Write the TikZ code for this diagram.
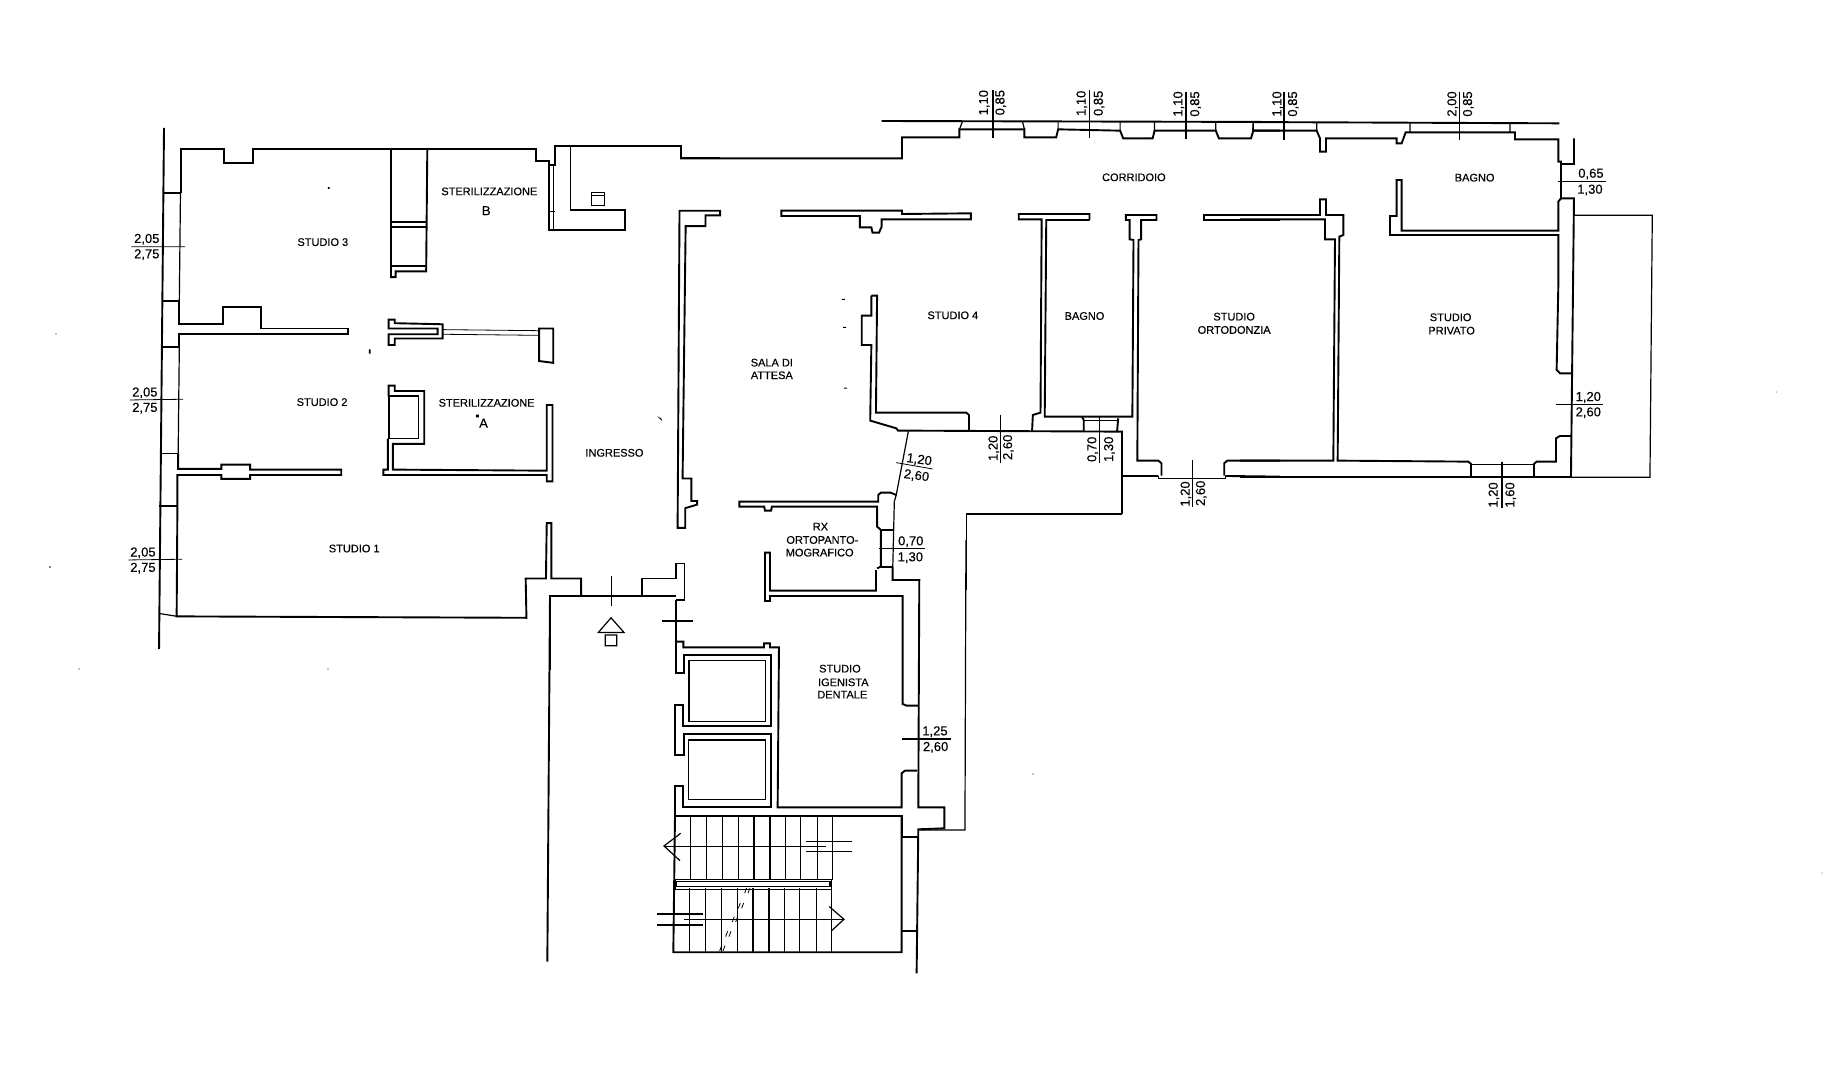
\documentclass[tikz,border=0pt]{standalone}
\usepackage{fontspec}
\setmainfont{Liberation Sans}
\newfontfamily\labf[FakeBold=0.3]{Liberation Sans}
\tikzset{
  wall/.style={line width=1.9pt,line join=miter,black},
  medw/.style={line width=1.2pt,black},
  thinw/.style={line width=0.8pt,black},
  tread/.style={line width=1.5pt,black},
  room/.style={font=\labf\fontsize{11}{12}\selectfont,inner sep=0pt,black},
  dimt/.style={font=\labf\fontsize{13}{14}\selectfont,inner sep=0pt,black},
  dimv/.style={font=\labf\fontsize{13}{14}\selectfont,inner sep=0pt,black,rotate=90},
  zone/.style={x=0.3827pt,y=-0.3571pt,shift={(120pt,-110pt)}},
  ztwo/.style={x=0.3827pt,y=-0.3333pt,shift={(680pt,-90pt)}},
  zthree/.style={x=0.3333pt,y=-0.3333pt,shift={(1240pt,-90pt)}},
  zfour/.style={x=0.3333pt,y=-0.3333pt,shift={(540pt,-540pt)}},
}
\begin{document}
\begin{tikzpicture}
\useasboundingbox (0pt,0pt) rectangle (1824pt,-1068pt);
\fill[white] (0pt,0pt) rectangle (1824pt,-1068pt);
% ---------- zone 1 : west wing
\begin{scope}[zone]
\draw[wall] (115,50)--(102,1510);
\draw[wall] (115,233)--(158,233) (110,535)--(155,535) (108,663)--(155,663) (105,962)--(152,962) (103,1108)--(150,1108);
\draw[medw] (103,1410)--(150,1418);
\draw[medw] (158,233)--(155,535) (155,663)--(152,962);
\draw[wall] (155,535)--(155,600)--(270,600)--(270,552)--(368,552)--(368,612)--(595,612)--(595,627)--(155,627)--(155,663);
\draw[wall] (152,962)--(152,1005)--(265,1005)--(265,993)--(340,993)--(340,1007)--(578,1007)--(578,1022)--(340,1022)--(340,1033)--(265,1033)--(265,1022)--(150,1022)--(150,1108)--(148,1418)--(1062,1422)--(1060,1312)--(1113,1312)--(1115,1157)--(1127,1157)--(1127,1312)--(1205,1312)--(1205,1360);
\draw[wall] (1123,1568)--(1123,1360)--(1452,1360);
\draw[wall] (1365,1360)--(1365,1312)--(1453,1312)--(1453,1270)--(1475,1270)--(1475,1372)--(1452,1372);
\draw[wall] (159,233)--(159,108)--(272,108)--(272,148)--(347,148)--(347,108)--(1088,108)--(1088,142)--(1122,142)--(1122,335)--(1320,335)--(1320,280)--(1177,280)--(1177,102)--(1137,102)--(1137,155)--(1122,155);
\draw[medw] (1132,155)--(1132,335) (1122,285)--(1137,285);
\draw[wall] (1137,102)--(1465,102)--(1465,133)--(1568,133);
\draw[wall] (708,108)--(708,468)--(720,468)--(720,452)--(800,452)--(803,108);
\draw[wall] (705,313)--(800,313) (705,327)--(800,327) (705,437)--(800,437);
\draw[thinw] (1232,232) rectangle (1265,268) (1232,240)--(1265,240);
\draw[wall] (702,587)--(702,612)--(830,612)--(830,628)--(702,628)--(702,658)--(718,658)--(718,640)--(843,640)--(843,600)--(718,597)--(718,587)--cycle;
\draw[thinw] (843,615)--(1095,618) (843,628)--(1095,631);
\draw[wall] (1095,612)--(1132,612)--(1132,708)--(1095,703)--cycle;
\draw[wall] (702,802)--(702,772)--(718,772)--(718,787)--(795,787)--(795,935)--(713,935)--(713,1007)--(1115,1010)--(1115,826)--(1130,826)--(1130,1040)--(1115,1040)--(1115,1022)--(688,1022)--(688,1007)--(700,1007)--(700,920);
\draw[wall] (702,802)--(780,802)--(780,920)--(702,920)--cycle;
\draw[wall] (1568,282)--(1462,282)--(1457,1170)--(1477,1170)--(1477,1115)--(1508,1105)--(1508,1095)--(1493,1095)--(1493,1032)--(1470,1032)--(1478,325)--(1530,325)--(1530,295)--(1568,295)--cycle;
\draw[thinw] (30,383)--(170,383) (25,812)--(165,810) (22,1260)--(163,1258);
\draw[medw] (1284,1305)--(1284,1390);
\draw[wall] (1417,1431)--(1497,1431);
\draw[medw] (1250,1463)--(1283,1422)--(1317,1463)--cycle (1268,1470) rectangle (1298,1500);
\node[dimt] (d1a) at (70,362) {2,05};
\node[dimt] (d1b) at (70,405) {2,75};
\node[dimt] (d2a) at (65,792) {2,05};
\node[dimt] (d2b) at (65,835) {2,75};
\node[dimt] (d3a) at (60,1240) {2,05};
\node[dimt] (d3b) at (60,1283) {2,75};
\node[room] (s3) at (530,370) {STUDIO 3};
\node[room] (stb) at (965,228) {STERILIZZAZIONE};
\node[dimt] (stbl) at (957,282) {B};
\node[room] (s2) at (528,818) {STUDIO 2};
\node[room] (sta) at (958,820) {STERILIZZAZIONE};
\node[dimt] (stal) at (950,877) {A};
\node[room] (ing) at (1292,960) {INGRESSO};
\node[room] (s1) at (612,1228) {STUDIO 1};
\fill (930,853) rectangle +(8,8) (650,670) rectangle +(5,12) (543,216) rectangle +(5,5) (1404,858) -- ++(10,5) -- ++(3,8) -- cycle;
\end{scope}
% ---------- zone 2 : centre
\begin{scope}[ztwo]
\draw[wall] (527,93)--(1568,96);
\draw[wall] (0,205)--(580,205)--(580,142)--(730,142)--(730,118)--(900,118)--(900,142)--(983,142)--(988,118)--(1150,122)--(1158,145)--(1235,145)--(1240,122)--(1400,122)--(1408,145)--(1492,145)--(1498,122)--(1568,122);
\draw[medw] (730,118)--(738,95) (895,95)--(900,118) (988,95)--(988,118) (1150,95)--(1150,122) (1240,95)--(1240,122) (1400,95)--(1400,122) (1498,95)--(1498,122);
\draw[wall] (817,0)--(817,145);
\draw[medw] (1069,0)--(1069,145) (1322,5)--(1322,148);
\draw[wall] (265,362)--(580,362)--(580,372)--(760,370)--(760,388)--(527,388)--(527,410)--(520,428)--(503,428)--(500,412)--(470,412)--(470,378)--(265,378)--cycle;
\draw[wall] (1070,390)--(957,390)--(953,980)--(1182,980)--(1185,450)--(1175,448)--(1175,390)--(1165,390)--(1165,375)--(1245,375)--(1245,390)--(1205,390)--(1205,448)--(1198,450)--(1195,1112)--(1250,1112)--(1258,1120)--(1258,1157);
\draw[wall] (1070,390)--(1070,372)--(885,372)--(885,388)--(945,388)--(942,968)--(922,975)--(920,1022);
\draw[wall] (1568,375)--(1370,375)--(1370,390)--(1568,390);
\draw[wall] (1422,1157)--(1422,1120)--(1430,1112)--(1568,1112);
\draw[wall] (1050,980)--(1055,990)--(1055,1025) (1145,985)--(1142,1025);
\draw[thinw] (1055,990)--(1142,990);
\draw[wall] (597,1022)--(1155,1025)--(1155,1272);
\draw[medw] (1155,1272)--(748,1272)--(748,1500);
\draw[wall] (1155,1158)--(1250,1158) (1425,1158)--(1568,1160);
\draw[thinw] (1250,1158)--(1250,1165)--(1425,1165)--(1425,1158);
\draw[wall] (500,617)--(515,617)--(512,968)--(748,968)--(755,975)--(755,1022);
\draw[wall] (500,617)--(500,677)--(475,677)--(475,765)--(500,765)--(497,992)--(565,1015)--(570,1022)--(597,1022);
\draw[medw] (597,1022)--(565,1215)--(560,1235);
\draw[wall] (565,1215)--(550,1208)--(525,1208)--(518,1215)--(518,1235)--(155,1235)--(155,1250)--(220,1250)--(222,1262)--(238,1262)--(240,1250)--(515,1250)--(515,1310)--(525,1320)--(525,1430)--(515,1435);
\draw[wall] (525,1320)--(556,1320) (525,1430)--(556,1430);
\draw[medw] (560,1235)--(556,1430);
\draw[medw] (520,1375)--(640,1375);
\draw[thinw] (837,975)--(837,1118) (1340,1110)--(1340,1250);
\draw[medw] (1097,980)--(1097,1118);
\draw[thinw] (565,1118)--(660,1137);
\node[dimv] (e1) at (795,38) {1,10};
\node[dimv] (e2) at (838,38) {0,85};
\node[dimv] (e3) at (1050,40) {1,10};
\node[dimv] (e4) at (1095,40) {0,85};
\node[dimv] (e5) at (1303,42) {1,10};
\node[dimv] (e6) at (1347,42) {0,85};
\node[dimv] (e7) at (820,1075) {1,20};
\node[dimv] (e8) at (858,1072) {2,60};
\node[dimv] (e9) at (1078,1078) {0,70};
\node[dimv] (e10) at (1122,1078) {1,30};
\node[dimv] (e11) at (1322,1212) {1,20};
\node[dimv] (e12) at (1362,1210) {2,60};
\node[dimt,rotate=-8] (e13) at (625,1110) {1,20};
\node[dimt,rotate=-8] (e14) at (618,1158) {2,60};
\node[dimt] (e15) at (603,1355) {0,70};
\node[dimt] (e16) at (602,1403) {1,30};
\node[room] (cor) at (1186,262) {CORRIDOIO};
\node[room] (s4) at (713,676) {STUDIO 4};
\node[room] (bg1) at (1057,678) {BAGNO};
\node[room] (ort1) at (1448,680) {STUDIO};
\node[room] (ort2) at (1448,720) {ORTODONZIA};
\node[room] (sala1) at (240,818) {SALA DI};
\node[room] (sala2) at (240,856) {ATTESA};
\node[room] (rx1) at (367,1310) {RX};
\node[room] (rx2) at (372,1350) {ORTOPANTO-};
\node[room] (rx3) at (365,1388) {MOGRAFICO};
\fill (423,627) rectangle +(8,3) (426,711) rectangle +(8,3) (428,893) rectangle +(8,3);
\end{scope}
% ---------- zone 3 : east wing
\begin{scope}[zthree]
\draw[wall] (0,96)--(958,100);
\draw[wall] (38,122)--(230,122)--(240,145)--(240,185)--(258,185)--(258,145)--(470,145)--(470,160)--(485,160)--(497,127)--(825,127)--(825,148)--(955,148)--(955,215)--(963,215)--(963,325)--(955,335)--(955,422)--(485,422)--(485,270)--(470,270)--(470,378)--(450,378)--(450,435)--(955,435)--(955,590)--(950,840)--(960,850)--(995,850);
\draw[medw] (40,95)--(38,122) (230,97)--(230,122) (510,100)--(510,127) (810,100)--(810,127);
\draw[medw] (132,5)--(132,150) (658,5)--(658,150);
\draw[wall] (1002,145)--(1002,222)--(963,222) (963,325)--(1002,325)--(993,1162);
\draw[wall] (0,1162)--(693,1162) (693,1162)--(882,1162)--(993,1162);
\draw[medw] (1002,376)--(1237,376)--(1230,1162)--(993,1162);
\draw[wall] (995,1038)--(960,1038)--(948,1045)--(948,1115)--(890,1115)--(882,1122)--(882,1160);
\draw[wall] (693,1160)--(693,1122)--(685,1115)--(293,1112)--(298,440)--(310,435)--(310,375)--(258,375)--(258,328)--(240,328)--(240,375)--(0,375);
\draw[wall] (0,388)--(255,388)--(255,448)--(285,448)--(280,1112)--(0,1112);
\draw[thinw] (693,1122)--(882,1122);
\draw[thinw] (955,275)--(1097,275) (948,943)--(1090,943);
\draw[wall] (785,1115)--(785,1255);
\node[dimv] (f1) at (113,42) {1,10};
\node[dimv] (f2) at (160,42) {0,85};
\node[dimv] (f3) at (638,42) {2,00};
\node[dimv] (f4) at (685,42) {0,85};
\node[dimt] (f5) at (1053,252) {0,65};
\node[dimt] (f6) at (1050,300) {1,30};
\node[dimt] (f7) at (1045,922) {1,20};
\node[dimt] (f8) at (1045,968) {2,60};
\node[dimv] (f9) at (762,1215) {1,20};
\node[dimv] (f10) at (812,1215) {1,60};
\node[room] (bg2) at (704,263) {BAGNO};
\node[room] (pr1) at (632,682) {STUDIO};
\node[room] (pr2) at (635,722) {PRIVATO};
\end{scope}
% ---------- zone 4 : south block, stairs
\begin{scope}[zfour]
\draw[wall] (30,168)--(22,1265);
\draw[wall] (408,180)--(408,398)--(432,398)--(432,345)--(693,345)--(693,558)--(430,558)--(430,495)--(405,495)--(405,645)--(432,645)--(432,582)--(693,582)--(693,802)--(430,802)--(430,737)--(405,737)--(405,828)--(1085,828)--(1085,890)--(1135,890);
\draw[wall] (1085,828)--(1085,1237)--(400,1237)--(405,828);
\draw[wall] (1085,1172)--(1132,1172);
\draw[wall] (408,305)--(430,305)--(430,322)--(672,322)--(672,310)--(690,310)--(690,322)--(717,322)--(713,802)--(1085,802)--(1085,700)--(1095,692)--(1132,692);
\draw[medw] (447,362) rectangle (677,545) (445,600) rectangle (677,778);
\draw[wall] (1008,90)--(1008,152)--(690,152)--(690,38)--(675,38)--(675,183)--(690,183)--(690,168)--(1088,168)--(1088,492)--(1100,497)--(1135,497);
\draw[wall] (1058,80)--(1058,120)--(1138,120)--(1135,802)--(1213,802)--(1213,865)--(1135,868)--(1130,1300);
\draw[medw] (1278,0)--(1275,870)--(1135,870);
\foreach \sx in {452,500,548,595,642,690,737,782,832,878}{
  \draw[tread] (\sx,828)--(\sx,1020);
  \draw[tread] (\sx-3,1045)--(\sx-3,1237);
}
\draw[medw] (405,1018) rectangle (875,1048);
\draw[medw] (410,1024) rectangle (870,1040);
\draw[medw] (422,880)--(372,918)--(420,962);
\draw[thinw] (372,918)--(858,918);
\draw[medw] (798,905)--(935,905) (798,935)--(935,935);
\draw[medw] (352,1122)--(490,1122);
\draw[medw] (352,1155)--(490,1155);
\draw[thinw] (432,1138)--(912,1138);
\draw[medw] (868,1100)--(912,1138)--(875,1172);
\foreach \bx/\by in {622/1052,603/1097,585/1138,565/1182,547/1225}{
  \draw[thinw] (\bx-8,\by+8)--(\bx-2,\by-8) (\bx+2,\by+8)--(\bx+8,\by-8);
}
\draw[medw] (1087,597)--(1232,597);
\node[dimt] (g1) at (1185,575) {1,25};
\node[dimt] (g2) at (1187,622) {2,60};
\node[room] (ig1) at (900,386) {STUDIO};
\node[room] (ig2) at (910,427) {IGENISTA};
\node[room] (ig3) at (907,464) {DENTALE};
\end{scope}
% scan specks
\fill (56pt,-334pt) circle (0.6pt) (50pt,-567pt) circle (0.9pt) (79pt,-669pt) circle (0.6pt) (328pt,-669pt) circle (0.6pt) (1033pt,-774pt) circle (0.6pt) (1776pt,-392pt) circle (0.5pt) (1822pt,-873pt) circle (0.5pt);
\end{tikzpicture}
\end{document}
